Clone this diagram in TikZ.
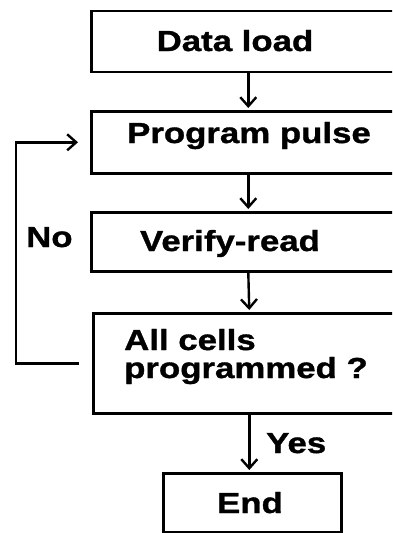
\documentclass[tikz,border=0pt]{standalone}
\usepackage{fontspec}
\newfontfamily\lblfont{Liberation Sans}[FakeStretch=1.2, BoldFeatures={FakeBold=1.2}]
\usetikzlibrary{arrows.meta}
\begin{document}
\begin{tikzpicture}[x=1pt,y=-1pt,
  box/.style={draw, line width=2.6pt, rectangle, inner sep=0pt, anchor=north west},
  lbl/.style={font=\lblfont\bfseries\fontsize{29}{25}\selectfont, inner sep=0pt},
  flow/.style={line width=2.4pt, -{Straight Barb[length=9pt,width=16pt,line width=2.4pt]}}]
\clip (0,0) rectangle (392,533);
% boxes
\node[box, minimum width=314pt, minimum height=61pt] (dl) at (90,9.5) {};
\node[box, minimum width=314pt, minimum height=62pt] (pp) at (90,110) {};
\node[box, minimum width=314pt, minimum height=59pt] (vr) at (90,211) {};
\node[box, minimum width=312pt, minimum height=100pt] (ac) at (92,312) {};
\node[box, minimum width=178pt, minimum height=59pt] (en) at (162,472) {};
% texts
\node[lbl, anchor=base] (tdl) at (235,51) {Data load};
\node[lbl, anchor=base] (tpp) at (249,143) {Program pulse};
\node[lbl, anchor=base] (tvr) at (230,251) {Verify-read};
\node[lbl, anchor=base west] (tac1) at (124,350) {All cells};
\node[lbl, anchor=base west] (tac2) at (124,378) {programmed ?};
\node[lbl, anchor=base] (ten) at (250,513) {End};
\node[lbl, anchor=base west] (tyes) at (266,453) {Yes};
\node[lbl, anchor=base west] (tno) at (26,247) {No};
% connectors
\draw[flow, shorten >=2pt] (dl.south) -- (pp.north);
\draw[flow, shorten >=2pt] (pp.south) -- (vr.north);
\draw[flow, shorten >=2pt] (vr.south) -- (ac.north);
\draw[flow, shorten >=2pt] (ac.south) -- (ac.south |- en.north);
\draw[flow, shorten >=12pt] ([xshift=-13pt]ac.west) -- ++(-63,0) |- (pp.west);
\end{tikzpicture}
\end{document}
